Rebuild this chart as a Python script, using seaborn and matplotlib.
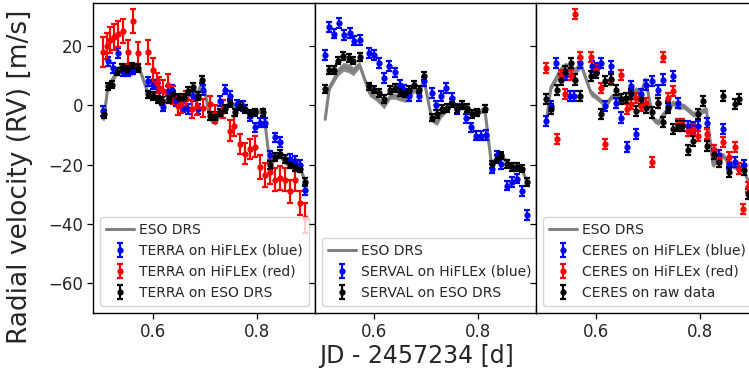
import numpy as np
import matplotlib
matplotlib.use("Agg")
import matplotlib.pyplot as plt
import seaborn as sns

# ---------------- data ----------------
t_eso = [0.506, 0.514, 0.522, 0.531, 0.541, 0.551, 0.560, 0.572, 0.591, 0.600, 0.610, 0.619, 0.631,
         0.640, 0.650, 0.660, 0.668, 0.677, 0.687, 0.696, 0.711, 0.721, 0.730, 0.740, 0.749, 0.759,
         0.769, 0.778, 0.788, 0.797, 0.813, 0.826, 0.836, 0.845, 0.855, 0.865, 0.874, 0.884, 0.894]
rv_eso = [-4.7, 6.0, 8.5, 11.4, 13.0, 12.5, 11.5, 13.7, 4.2, 3.0, 1.5, -0.2, 3.0,
          3.1, 2.5, 2.0, 3.1, 5.3, 4.0, 8.7, -4.7, -5.8, -3.0, -1.3, 0.9, -0.5,
          -0.2, -1.5, -3.0, -2.5, -1.3, -20.2, -17.5, -16.9, -19.1, -20.5, -20.8, -21.3, -25.8]
err_eso = [1.0, 1.2, 1.2, 1.5, 1.5, 1.5, 1.5, 1.2, 1.2, 1.0, 1.0, 1.0, 1.0,
           1.0, 1.0, 1.0, 1.0, 1.0, 1.0, 1.0, 1.0, 1.0, 1.0, 1.0, 1.0, 1.0,
           1.0, 1.0, 1.0, 1.0, 1.0, 1.0, 1.0, 1.0, 1.0, 1.0, 1.0, 1.0, 1.0]

# Panel 1: TERRA
rv_terra_eso = [-3.0, 6.4, 7.0, 11.4, 12.6, 12.0, 13.1, 12.6, 3.7, 3.1, 2.0, 1.4, 2.0,
                3.7, 2.6, 2.6, 4.8, 6.2, 3.1, 8.7, -3.6, -3.6, -2.4, -1.3, 0.9, -2.4,
                -0.2, -1.3, -3.0, -2.4, -2.4, -20.2, -17.4, -16.3, -18.0, -19.7, -20.8, -21.3, -25.8]
t_terra_blue = [0.505, 0.515, 0.524, 0.534, 0.544, 0.553, 0.563, 0.592, 0.601, 0.611, 0.621, 0.630,
                0.638, 0.646, 0.659, 0.669, 0.678, 0.688, 0.697, 0.729, 0.739, 0.749, 0.762, 0.774,
                0.787, 0.797, 0.806, 0.816, 0.826, 0.835, 0.845, 0.864, 0.874, 0.883, 0.893]
rv_terra_blue = [-1.9, 14.8, 12.6, 17.6, 11.4, 11.4, 12.0, 8.1, 7.0, 5.9, -0.4, 4.8,
                 5.3, 1.4, -0.8, -1.3, 3.1, -1.3, 5.1, 1.4, 5.3, 3.1, 0.3, -0.2,
                 -3.6, -7.4, -5.8, -5.8, -16.9, -10.8, -12.4, -18.0, -18.6, -20.0, -28.6]
t_terra_red = [0.505, 0.512, 0.519, 0.525, 0.534, 0.544, 0.553, 0.562, 0.572, 0.592, 0.601, 0.608,
               0.613, 0.621, 0.630, 0.640, 0.649, 0.655, 0.665, 0.675, 0.685, 0.697, 0.710, 0.720,
               0.736, 0.749, 0.757, 0.768, 0.778, 0.787, 0.797, 0.806, 0.816, 0.826, 0.835, 0.845,
               0.854, 0.864, 0.874, 0.883, 0.893]
rv_terra_red = [18, 20, 22, 23, 24, 25, 18, 28.5, 17.5, 18, 12, 7.5,
                6, 5, 7, 3.5, -0.2, 0.5, 2, -1.3, -0.2, -0.8, 0.3, -3,
                -1.3, -8.5, -7, -13, -16.3, -14.7, -14, -20.8, -23.6, -22.5, -25, -24.5,
                -25, -29, -25, -33, -38]
err_terra_red = [5, 4.5, 4.5, 4.5, 4.5, 4, 4, 4, 4, 4, 4, 3.5,
                 3.5, 3.5, 3.5, 3, 3, 3, 3, 3, 3, 3, 3, 3,
                 3, 3.5, 3.5, 3.5, 3.5, 3.5, 3.5, 4, 4, 4, 4, 4,
                 4, 4, 4, 4, 5]

# Panel 2: SERVAL
rv_serval_eso = [5.6, 12.0, 12.0, 15.1, 16.7, 15.9, 15.1, 16.4, 6.4, 5.3, 4.2, 2.2, 5.1,
                 5.9, 4.4, 4.2, 5.3, 7.0, 5.3, 10.0, -4.1, -3.0, -1.3, -0.8, 0.7, -1.3,
                 0.0, -0.8, -3.0, -2.4, -1.1, -19.9, -18.0, -16.9, -19.7, -20.8, -20.8, -21.3, -25.8]
t_serval_blue = [0.506, 0.514, 0.522, 0.533, 0.542, 0.553, 0.562, 0.572, 0.591, 0.600, 0.610, 0.619,
                 0.629, 0.640, 0.649, 0.658, 0.668, 0.687, 0.696, 0.711, 0.719, 0.728, 0.738, 0.749,
                 0.759, 0.777, 0.786, 0.796, 0.805, 0.815, 0.826, 0.836, 0.845, 0.855, 0.865, 0.874,
                 0.884, 0.894]
rv_serval_blue = [17, 26.4, 24.2, 27.8, 23.7, 24.4, 21.8, 22, 17.6, 17, 14.2, 9.2,
                  13.3, 11.1, 7, 5.3, 3.1, 3.1, 8.1, 4.2, 0, 3.1, 5.9, 2.6,
                  -1.3, -4.4, -7.4, -10.2, -10.2, -10, -21.3, -16.9, -19.7, -27.1, -25.8, -24.7,
                  -28.9, -36.9]

# Panel 3: CERES
t_ceres_raw = [0.505, 0.514, 0.525, 0.533, 0.542, 0.552, 0.561, 0.570, 0.592, 0.600, 0.610, 0.619,
               0.630, 0.640, 0.649, 0.658, 0.668, 0.677, 0.688, 0.697, 0.709, 0.720, 0.729, 0.739,
               0.748, 0.758, 0.767, 0.778, 0.787, 0.797, 0.806, 0.814, 0.827, 0.837, 0.846, 0.856,
               0.868, 0.875, 0.885, 0.894]
rv_ceres_raw = [2, -1.3, 5.3, 8.7, 11.4, 14.2, 8.7, 3.1, 9.8, 10.9, -3, 8.1,
                8.9, 5.3, 2, 2.6, 3.7, -1.9, 2, -0.8, -2.4, 0.9, -5.6, -0.8,
                -8, -6.9, -6.9, -15.2, -11.9, -3, 1.4, -13.6, -16.3, -19.1, 3.1, -22.4,
                0.3, 2, -21.9, -30]
t_ceres_blue = [0.505, 0.514, 0.523, 0.544, 0.550, 0.559, 0.570, 0.594, 0.602, 0.610, 0.619, 0.630,
                0.640, 0.649, 0.660, 0.668, 0.677, 0.688, 0.697, 0.709, 0.720, 0.729, 0.739, 0.748,
                0.758, 0.767, 0.778, 0.787, 0.797, 0.814, 0.827, 0.837, 0.846, 0.856, 0.868, 0.875,
                0.885]
rv_ceres_blue = [-5.2, -0.2, 14.2, 10.3, 3.1, 3.1, 14.2, 13.1, 12.6, 14.2, -0.2, 13.1,
                 0.9, -4.1, -14.1, 6.4, -9.7, 3.7, 7, 8.1, 5.3, 8.7, -0.2, 10,
                 0.9, -6.3, -6.9, -7.4, -6.9, -5.8, -15.2, -16.9, -8, -19.7, -19.1, -21.3,
                 -20.2]
t_ceres_red = [0.505, 0.525, 0.533, 0.542, 0.552, 0.561, 0.570, 0.591, 0.600, 0.610, 0.619, 0.630,
               0.649, 0.660, 0.668, 0.677, 0.688, 0.697, 0.709, 0.720, 0.729, 0.739, 0.748, 0.758,
               0.767, 0.778, 0.787, 0.797, 0.814, 0.827, 0.837, 0.846, 0.856, 0.868, 0.875, 0.884,
               0.893]
rv_ceres_red = [12.6, -11.3, 10.3, 3.7, 10.3, 30.9, 16.4, 16.4, 12, 5.9, -13, 8.7,
                10.3, -1.3, 0.3, 2.6, -0.2, 0.9, -19.1, 0.9, 16.4, 2.6, 4.8, -6.3,
                -6.3, -8.6, -8, -10.2, -9.7, -15.2, -18, -12.4, -17.4, -14.1, -21.3, -35,
                -27.4]

err_blue = 1.6
err_black = 1.3
err_ceres = 1.7

x_ticks = [0.6, 0.8]
y_ticks = [-60, -40, -20, 0, 20]

# ---------------- plot ----------------
sns.set_style("ticks")
plt.rcParams['font.family'] = ['DejaVu Sans']

W, H = 749, 376
fig = plt.figure(figsize=(W / 100, H / 100), dpi=100)

left_px, top_px, bot_px, pw = 93.3, 3.0, 313.0, 221.5
axes = []
for i in range(3):
    ax = fig.add_axes([(left_px + i * pw) / W, 1 - bot_px / H, pw / W, (bot_px - top_px) / H])
    axes.append(ax)

ebkw = dict(fmt='o', ms=3.5, capsize=2.2, elinewidth=1.6, capthick=1.6)


def draw_eso(ax):
    lo = np.array(rv_eso) - np.array(err_eso)
    hi = np.array(rv_eso) + np.array(err_eso)
    ax.fill_between(t_eso, lo, hi, color='gray', lw=0, alpha=0.9, zorder=1)
    sns.lineplot(x=t_eso, y=rv_eso, ax=ax, color='gray', lw=2.2, label='ESO DRS',
                 sort=False, zorder=1)


# panel 1
ax = axes[0]
draw_eso(ax)
ax.errorbar(t_terra_blue, rv_terra_blue, yerr=err_blue, color='blue',
            label='TERRA on HiFLEx (blue)', **ebkw)
ax.errorbar(t_terra_red, rv_terra_red, yerr=err_terra_red, color='red',
            label='TERRA on HiFLEx (red)', **ebkw)
ax.errorbar(t_eso, rv_terra_eso, yerr=err_black, color='black',
            label='TERRA on ESO DRS', **ebkw)

# panel 2
ax = axes[1]
draw_eso(ax)
ax.errorbar(t_serval_blue, rv_serval_blue, yerr=err_blue, color='blue',
            label='SERVAL on HiFLEx (blue)', **ebkw)
ax.errorbar(t_eso, rv_serval_eso, yerr=err_black, color='black',
            label='SERVAL on ESO DRS', **ebkw)

# panel 3
ax = axes[2]
draw_eso(ax)
ax.errorbar(t_ceres_blue, rv_ceres_blue, yerr=err_ceres, color='blue',
            label='CERES on HiFLEx (blue)', **ebkw)
ax.errorbar(t_ceres_red, rv_ceres_red, yerr=err_ceres, color='red',
            label='CERES on HiFLEx (red)', **ebkw)
ax.errorbar(t_ceres_raw, rv_ceres_raw, yerr=err_ceres, color='black',
            label='CERES on raw data', **ebkw)

for i, ax in enumerate(axes):
    ax.set_xlim(0.486, 0.912)
    ax.set_ylim(-70, 34.5)
    ax.set_xticks(x_ticks)
    ax.set_yticks(y_ticks)
    ax.tick_params(labelsize=12, length=4, width=0.9, color='black')
    for s in ax.spines.values():
        s.set_color('black')
        s.set_linewidth(1.0)
    ax.set_xlabel('')
    ax.set_ylabel('')
    if i > 0:
        ax.tick_params(labelleft=False)
    ax.legend(loc='lower left', fontsize=10, handletextpad=0.35, borderpad=0.45)

axes[0].set_ylabel('Radial velocity (RV) [m/s]', fontsize=19)
axes[0].yaxis.set_label_coords(-0.27, 0.44)
axes[1].set_xlabel('JD - 2457234 [d]', fontsize=17)
axes[1].xaxis.set_label_coords(0.46, -0.10)

fig.savefig('out.png', dpi=100)
